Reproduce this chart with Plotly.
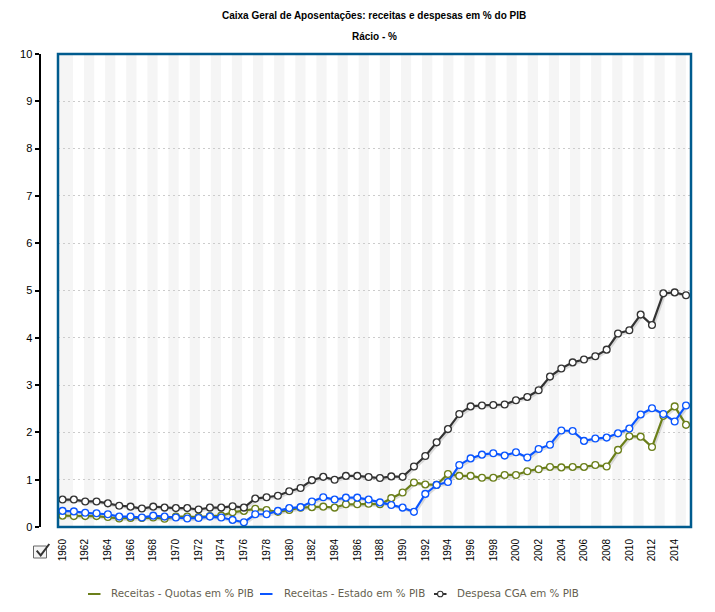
import plotly.graph_objects as go

# values
years = list(range(1960, 2016))
quotas = [.24, .23, .23, .23, .21, .18, .19, .19, .20, .175, .22, .22, .21, .23, .24, .31, .34, .385, .36, .32,
          .36, .41, .42, .43, .41, .48, .48, .49, .48, .61, .73, .94, .90, .89, 1.12, 1.08, 1.08, 1.04, 1.04, 1.10,
          1.10, 1.18, 1.22, 1.27, 1.26, 1.27, 1.27, 1.31, 1.28, 1.63, 1.92, 1.91, 1.69, 2.35, 2.55, 2.16]
estado = [.34, .33, .30, .29, .27, .22, .22, .20, .24, .22, .20, .18, .19, .22, .20, .15, .10, .27, .27, .34,
          .40, .42, .54, .63, .58, .62, .62, .58, .52, .465, .41, .32, .70, .89, .95, 1.31, 1.45, 1.53, 1.56, 1.51,
          1.58, 1.47, 1.65, 1.74, 2.04, 2.03, 1.82, 1.87, 1.89, 1.98, 2.08, 2.38, 2.51, 2.39, 2.23, 2.57]
despesa = [.58, .58, .54, .54, .50, .45, .43, .39, .43, .41, .40, .40, .37, .41, .41, .44, .41, .60, .63, .66,
           .755, .825, .99, 1.06, 1.0, 1.08, 1.08, 1.056, 1.035, 1.07, 1.06, 1.28, 1.50, 1.79, 2.07, 2.39, 2.55, 2.57, 2.58, 2.59,
           2.68, 2.75, 2.89, 3.18, 3.35, 3.48, 3.54, 3.61, 3.75, 4.09, 4.16, 4.49, 4.27, 4.94, 4.96, 4.90]
year_ticks = list(range(1960, 2016, 2))
y_ticks = list(range(0, 11))
names = ["Receitas - Quotas em % PIB", "Receitas - Estado em % PIB", "Despesa CGA em % PIB"]

# the page has an 8px body margin, so work in screen pixels and convert
W, H = 707, 596
OFF = 8
left, right, top, bottom = 58, 691, 54, 527

def px(v):
    return (v - OFF) / W

def py(v):
    return 1 - (v - OFF) / H

GREEN = "#6b7f1a"
BLUE = "#0a55ff"
DARK = "#333333"
GRAY = "#f5f5f5"

fig = go.Figure()

# soft shadow under each line
for vals in [quotas, estado, despesa]:
    fig.add_trace(go.Scatter(x=[a + 0.13 for a in years], y=[b - 0.035 for b in vals], mode="lines",
                             line=dict(color="rgba(0,0,0,0.13)", width=2), showlegend=False, hoverinfo="skip"))

for name, vals, col in zip(names, [quotas, estado, despesa], [GREEN, BLUE, DARK]):
    fig.add_trace(go.Scatter(x=years, y=vals, mode="lines+markers", name=name,
                             line=dict(color=col, width=2.2),
                             marker=dict(size=6.8, color="white", line=dict(color=col, width=1.3)),
                             showlegend=False))

def rect(x0, x1, y0, y1, **kw):
    return dict(type="rect", xref="paper", yref="paper", x0=px(x0), x1=px(x1), y0=py(y0), y1=py(y1), **kw)

# background stripes
shapes = [rect(left, 73, bottom, top, fillcolor=GRAY, line_width=0, layer="below")]
s = 84.0
while s < right:
    shapes.append(rect(s, min(s + 10.2, right), bottom, top, fillcolor=GRAY, line_width=0, layer="below"))
    s += 21.13

# plot frame
shapes.append(rect(left, right, bottom, top, line=dict(color="#005b8e", width=2.5), layer="above"))
# checkbox
shapes.append(rect(33.5, 46.5, 558, 546, line=dict(color="#666666", width=1), fillcolor="#f4f4f4"))
shapes.append(dict(type="path", xref="paper", yref="paper",
                   path=f"M {px(36.7)} {py(550.7)} L {px(40.7)} {py(555.3)} L {px(49.3)} {py(544)}",
                   line=dict(color="#333333", width=2)))

# legend: short swatches, which the built-in legend cannot draw
LEG_Y = 593
annotations = [
    dict(text="<b>Caixa Geral de Aposentações: receitas e despesas em % do PIB</b>", x=px(374), y=py(16),
         xref="paper", yref="paper", showarrow=False, yanchor="middle", font=dict(size=10)),
    dict(text="<b>Rácio - %</b>", x=px(374.5), y=py(36), xref="paper", yref="paper", showarrow=False,
         yanchor="middle", font=dict(size=10)),
]
for name, col, sx, tx in zip(names, [GREEN, BLUE, DARK], [88, 260, 434], [110, 283, 456]):
    shapes.append(dict(type="line", xref="paper", yref="paper", x0=px(sx), x1=px(sx + 12.5), y0=py(LEG_Y + 1),
                       y1=py(LEG_Y + 1), line=dict(color=col, width=2)))
    annotations.append(dict(text=name, x=px(tx), y=py(LEG_Y), xref="paper", yref="paper", showarrow=False,
                            xanchor="left", yanchor="middle", xshift=-1,
                            font=dict(family="DejaVu Sans", size=10.3, color="#665f4f")))
shapes.append(rect(437.5, 443, LEG_Y + 3.8, LEG_Y - 1.8, line=dict(color=DARK, width=1.1), fillcolor="white"))
shapes[-1]["type"] = "circle"

fig.update_layout(
    width=W, height=H, margin=dict(l=0, r=0, t=0, b=0, autoexpand=False),
    paper_bgcolor="white", plot_bgcolor="white", showlegend=False,
    font=dict(family="Liberation Sans, Arial, sans-serif", color="black", size=11),
    shapes=shapes, annotations=annotations,
    xaxis=dict(domain=[px(left), px(right)], range=[1959.6, 2015.44], tickmode="array", tickvals=year_ticks,
               ticktext=[str(t) for t in year_ticks], tickangle=-90, ticks="outside", ticklen=7, tickcolor="white",
               showgrid=False, zeroline=False, tickfont=dict(size=10)),
    yaxis=dict(domain=[py(bottom), py(top)], range=[0, 10], anchor="free", position=px(40), tickvals=y_ticks,
               showline=True, linecolor="black", linewidth=2, ticks="outside", ticklen=4.5, tickwidth=1.5,
               tickcolor="black", gridcolor="#cccccc", griddash="2px,3px", gridwidth=1, zeroline=False,
               tickfont=dict(size=11)),
)

fig.write_html("out.html")
